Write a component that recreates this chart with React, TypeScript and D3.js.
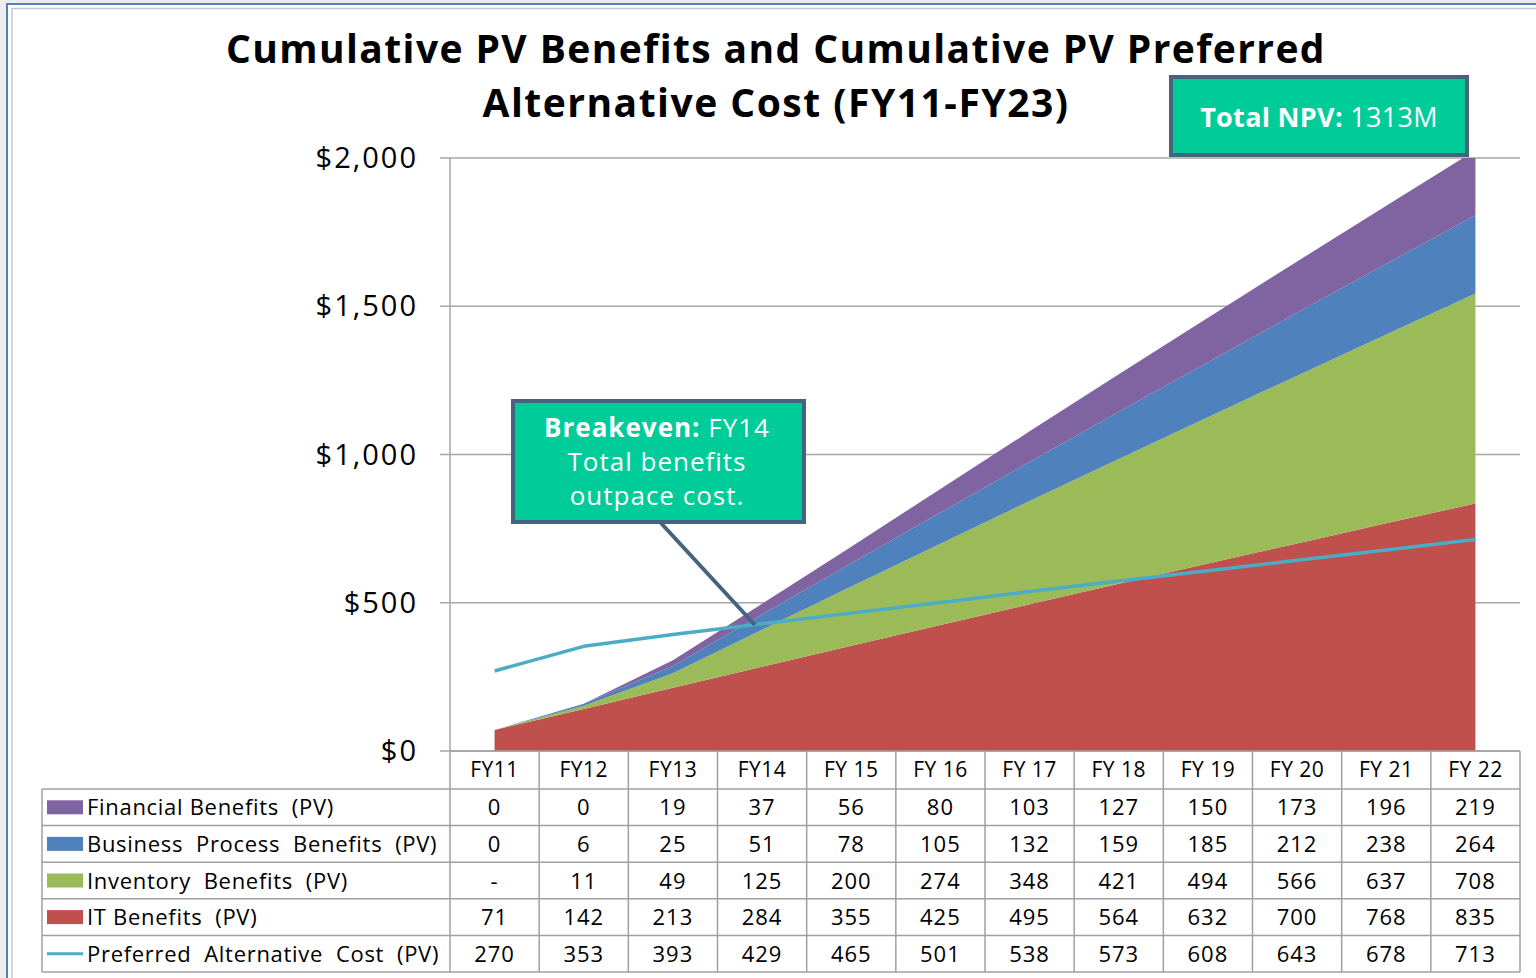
import React from "react";
import * as d3 from "d3";

const years = ["FY11", "FY12", "FY13", "FY14", "FY 15", "FY 16", "FY 17", "FY 18", "FY 19", "FY 20", "FY 21", "FY 22"];
const financial = [0, 0, 19, 37, 56, 80, 103, 127, 150, 173, 196, 219];
const businessProcess = [0, 6, 25, 51, 78, 105, 132, 159, 185, 212, 238, 264];
const inventory: (number | null)[] = [null, 11, 49, 125, 200, 274, 348, 421, 494, 566, 637, 708];
const itBenefits = [71, 142, 213, 284, 355, 425, 495, 564, 632, 700, 768, 835];
const prefCost = [270, 353, 393, 429, 465, 501, 538, 573, 608, 643, 678, 713];
const yTicks = [0, 500, 1000, 1500, 2000];

const seriesDefs = [
  { key: "fin", label: "Financial Benefits  (PV)", color: "#8064a2", values: financial as (number | null)[] },
  { key: "bp", label: "Business  Process  Benefits  (PV)", color: "#4f81bd", values: businessProcess as (number | null)[] },
  { key: "inv", label: "Inventory  Benefits  (PV)", color: "#9bbb59", values: inventory },
  { key: "it", label: "IT Benefits  (PV)", color: "#c0504d", values: itBenefits as (number | null)[] },
  { key: "cost", label: "Preferred  Alternative  Cost  (PV)", color: "#4bacc6", values: prefCost as (number | null)[], line: true },
];

const W = 1536, H = 978;
const plotL = 450, plotR = 1520, plotT = 158, plotB = 751;
const tableL = 42;
const headerB = 789;

export default function App() {
  const x = d3.scaleBand<string>().domain(years).range([plotL, plotR]).padding(0);
  const y = d3.scaleLinear().domain([0, 2000]).range([plotB, plotT]);
  const cx = (d: string) => (x(d) as number) + x.bandwidth() / 2;

  const rows = years.map((yr, i) => ({
    year: yr,
    it: itBenefits[i],
    inv: inventory[i] ?? 0,
    bp: businessProcess[i],
    fin: financial[i],
  }));
  const stack = d3.stack<any>().keys(["it", "inv", "bp", "fin"]);
  const stacked = stack(rows);
  const colorMap: Record<string, string> = { it: "#c0504d", inv: "#9bbb59", bp: "#4f81bd", fin: "#8064a2" };
  const area = d3
    .area<any>()
    .x((d) => cx(d.data.year))
    .y0((d) => y(d[0]))
    .y1((d) => y(d[1]));
  const line = d3
    .line<number>()
    .x((_, i) => cx(years[i]))
    .y((d) => y(d));

  const font = "'Open Sans', 'DejaVu Sans', sans-serif";
  const rH = (972 - headerB) / 5;
  const rowTops = d3.range(6).map((i) => headerB + i * rH);

  return (
    <svg width={W} height={H} style={{ position: "absolute", left: 0, top: 0 }} fontFamily={font}>
      <defs>
        <clipPath id="plotclip">
          <rect x={plotL} y={plotT} width={plotR - plotL} height={plotB - plotT} />
        </clipPath>
      </defs>
      <rect x={0} y={0} width={W} height={H} fill="#ececec" />
      <rect x={7} y={4} width={W} height={H} fill="#ffffff" stroke="#4f81bd" strokeWidth={2} />
      <rect x={12} y={8.5} width={W} height={H} fill="#ffffff" stroke="#c8c8c8" strokeWidth={1.5} />

      {/* Title */}
      <text x={776} y={63} textAnchor="middle" fontSize={39} fontWeight={700} letterSpacing={1.4} fill="#000">
        Cumulative PV Benefits and Cumulative PV Preferred
      </text>
      <text x={776} y={117} textAnchor="middle" fontSize={39} fontWeight={700} letterSpacing={1.5} fill="#000">
        Alternative Cost (FY11-FY23)
      </text>

      {/* gridlines */}
      {yTicks.map((t) => (
        <g key={t}>
          <line x1={440} x2={plotR} y1={y(t)} y2={y(t)} stroke="#a6a6a6" strokeWidth={1.5} />
          <text x={418} y={y(t) + 10} textAnchor="end" fontSize={29} letterSpacing={2} fill="#000">
            {d3.format("$,")(t)}
          </text>
        </g>
      ))}
      <line x1={plotL} x2={plotL} y1={plotT} y2={plotB} stroke="#a6a6a6" strokeWidth={1.5} />

      {/* stacked areas */}
      <g clipPath="url(#plotclip)">
        {stacked.map((s) => (
          <path key={s.key} d={area(s) as string} fill={colorMap[s.key]} />
        ))}
      </g>
      <path d={line(prefCost) as string} fill="none" stroke="#4bacc6" strokeWidth={3.5} strokeLinejoin="round" />

      {/* Breakeven callout */}
      <line x1={660} y1={522} x2={755} y2={625} stroke="#46647f" strokeWidth={4} />
      <rect x={513} y={401} width={291} height={121} fill="#00cc99" stroke="#46647f" strokeWidth={4} />
      <text x={657} y={437} textAnchor="middle" fontSize={26} fill="#fff" letterSpacing={1}>
        <tspan fontWeight={700}>Breakeven:</tspan>
        <tspan> FY14</tspan>
      </text>
      <text x={657} y={471} textAnchor="middle" fontSize={26} fill="#fff" letterSpacing={1}>
        Total benefits
      </text>
      <text x={657} y={505} textAnchor="middle" fontSize={26} fill="#fff" letterSpacing={1}>
        outpace cost.
      </text>

      {/* Total NPV box */}
      <rect x={1171} y={77} width={296} height={78} fill="#00cc99" stroke="#46647f" strokeWidth={4} />
      <text x={1319} y={127} textAnchor="middle" fontSize={27} fill="#fff" letterSpacing={0.3}>
        <tspan fontWeight={700}>Total NPV:</tspan>
        <tspan> 1313M</tspan>
      </text>

      {/* Data table */}
      <g stroke="#a0a0a0" strokeWidth={1.5}>
        <line x1={plotL} x2={plotR} y1={plotB} y2={plotB} />
        {rowTops.map((ry, i) => (
          <line key={i} x1={tableL} x2={plotR} y1={ry} y2={ry} />
        ))}
        <line x1={tableL} x2={tableL} y1={headerB} y2={972} />
        {years.map((yr) => (
          <line key={yr} x1={x(yr) as number} x2={x(yr) as number} y1={plotB} y2={972} />
        ))}
        <line x1={plotR} x2={plotR} y1={plotB} y2={972} />
      </g>
      {years.map((yr) => (
        <text key={yr} x={cx(yr)} y={777} textAnchor="middle" fontSize={21} letterSpacing={0.5} fill="#000">
          {yr}
        </text>
      ))}
      {seriesDefs.map((s, r) => {
        const ty = rowTops[r] + rH / 2 + 8;
        const my = rowTops[r] + rH / 2;
        return (
          <g key={s.key}>
            {s.line ? (
              <line x1={47} x2={83} y1={my} y2={my} stroke={s.color} strokeWidth={3} />
            ) : (
              <rect x={47} y={my - 7} width={36} height={14} fill={s.color} />
            )}
            <text x={87} y={ty} fontSize={22} letterSpacing={0.7} fill="#000" style={{ whiteSpace: "pre" }}>
              {s.label}
            </text>
            {s.values.map((v, i) => (
              <text key={i} x={cx(years[i])} y={ty} textAnchor="middle" fontSize={22} letterSpacing={1} fill="#000">
                {v === null ? "-" : v}
              </text>
            ))}
          </g>
        );
      })}
    </svg>
  );
}
